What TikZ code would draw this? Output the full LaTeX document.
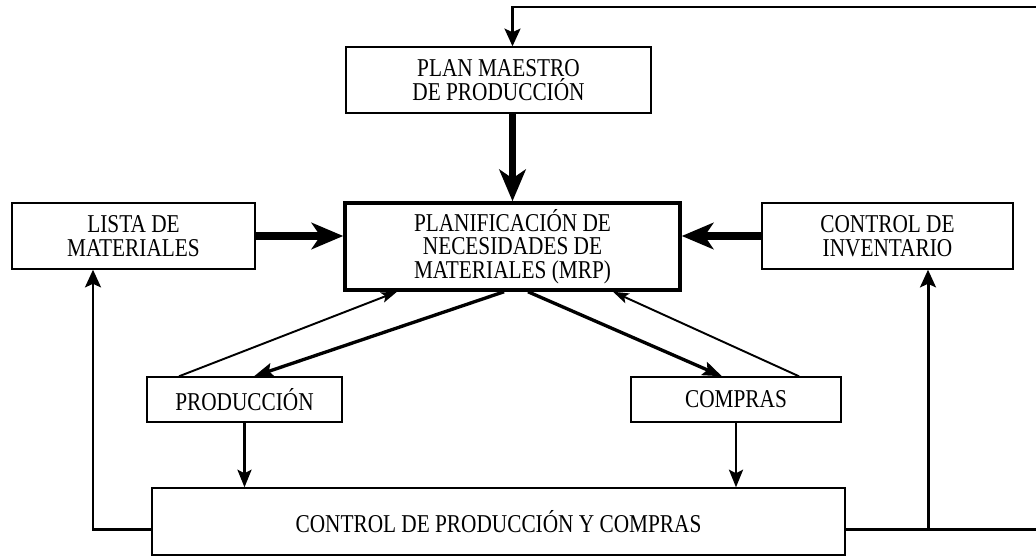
\documentclass[tikz,border=0pt]{standalone}
\usepackage{fontspec}
\setmainfont[FakeStretch=0.83]{Liberation Serif}
\usepackage{tikz}
\usetikzlibrary{arrows.meta}
\tikzset{
  box/.style={draw, line width=0.8pt, align=center, inner sep=0pt,
    font=\fontsize{14.6}{13.4}\selectfont},
  mainbox/.style={box, line width=2pt},
  bigarrow/.style={line width=4pt, -{Stealth[length=18pt, width=15pt, inset=5pt]}},
  feedback/.style={line width=1.7pt, -{Stealth[length=10pt, width=9pt, inset=2pt]}},
  midarrow/.style={line width=1.4pt, -{Stealth[length=10pt, width=8pt, inset=2pt]}},
  diagthick/.style={line width=1.9pt, -{Stealth[length=11pt, width=8pt, inset=2pt]}},
  diagthin/.style={line width=1.1pt, -{Stealth[length=9pt, width=6pt, inset=2pt]}}}

\begin{document}
\begin{tikzpicture}
      \useasboundingbox (0, 0) rectangle (20.72, -11.12);

      \node [box, minimum width=6.10cm, minimum height=1.32cm] (plan) at (9.97, -1.60) {PLAN MAESTRO\\DE PRODUCCIÓN};
      \node [mainbox, minimum width=6.70cm, minimum height=1.74cm] (mrp) at (10.25, -4.93) {PLANIFICACIÓN DE\\NECESIDADES DE\\MATERIALES (MRP)};
      \node [box, minimum width=4.86cm, minimum height=1.32cm] (lista) at (2.67, -4.72) {LISTA DE\\MATERIALES};
      \node [box, minimum width=5.02cm, minimum height=1.32cm] (inv) at (17.75, -4.72) {CONTROL DE\\INVENTARIO};
      \node [box, minimum width=3.90cm, minimum height=0.90cm] (prod) at (4.89, -7.99) {PRODUCCIÓN};
      \node [box, minimum width=4.20cm, minimum height=0.90cm] (comp) at (14.72, -7.99) {COMPRAS};
      \node [box, minimum width=13.86cm, minimum height=1.34cm] (cpc) at (9.97, -10.43) {CONTROL DE PRODUCCIÓN Y COMPRAS};

      \coordinate (topR) at (20.72, -0.14);
      \coordinate (botR) at (20.72, -10.59);

      % entradas del MRP
      \draw [feedback] (topR) -| (mrp.north |- plan.north);
      \draw [bigarrow] (mrp.north |- plan.south) -- (mrp.north);
      \draw [bigarrow] (lista.east) -- (lista.east -| mrp.west);
      \draw [bigarrow] (inv.west) -- (inv.west -| mrp.east);

      % ordenes y retorno
      \draw [diagthin] ([xshift=-1.31cm]prod.north) -- ([xshift=-2.31cm]mrp.south);
      \draw [diagthick] ([xshift=-0.17cm]mrp.south) -- ([xshift=0.19cm]prod.north);
      \draw [diagthick] ([xshift=0.31cm]mrp.south) -- ([xshift=-0.28cm]comp.north);
      \draw [diagthin] ([xshift=1.26cm]comp.north) -- ([xshift=2.01cm]mrp.south);

      \draw [midarrow] (prod.south) -- (prod.south |- cpc.north);
      \draw [midarrow] (comp.south) -- (comp.south |- cpc.north);

      % realimentacion
      \draw [feedback] ([yshift=-0.16cm]cpc.west) -| ([xshift=-0.81cm]lista.south);
      \draw [line width=1.7pt] ([yshift=-0.16cm]cpc.east) -- (botR);
      \draw [feedback] ([xshift=0.81cm]inv.south |- botR) -- ([xshift=0.81cm]inv.south);

    \end{tikzpicture}
\end{document}
